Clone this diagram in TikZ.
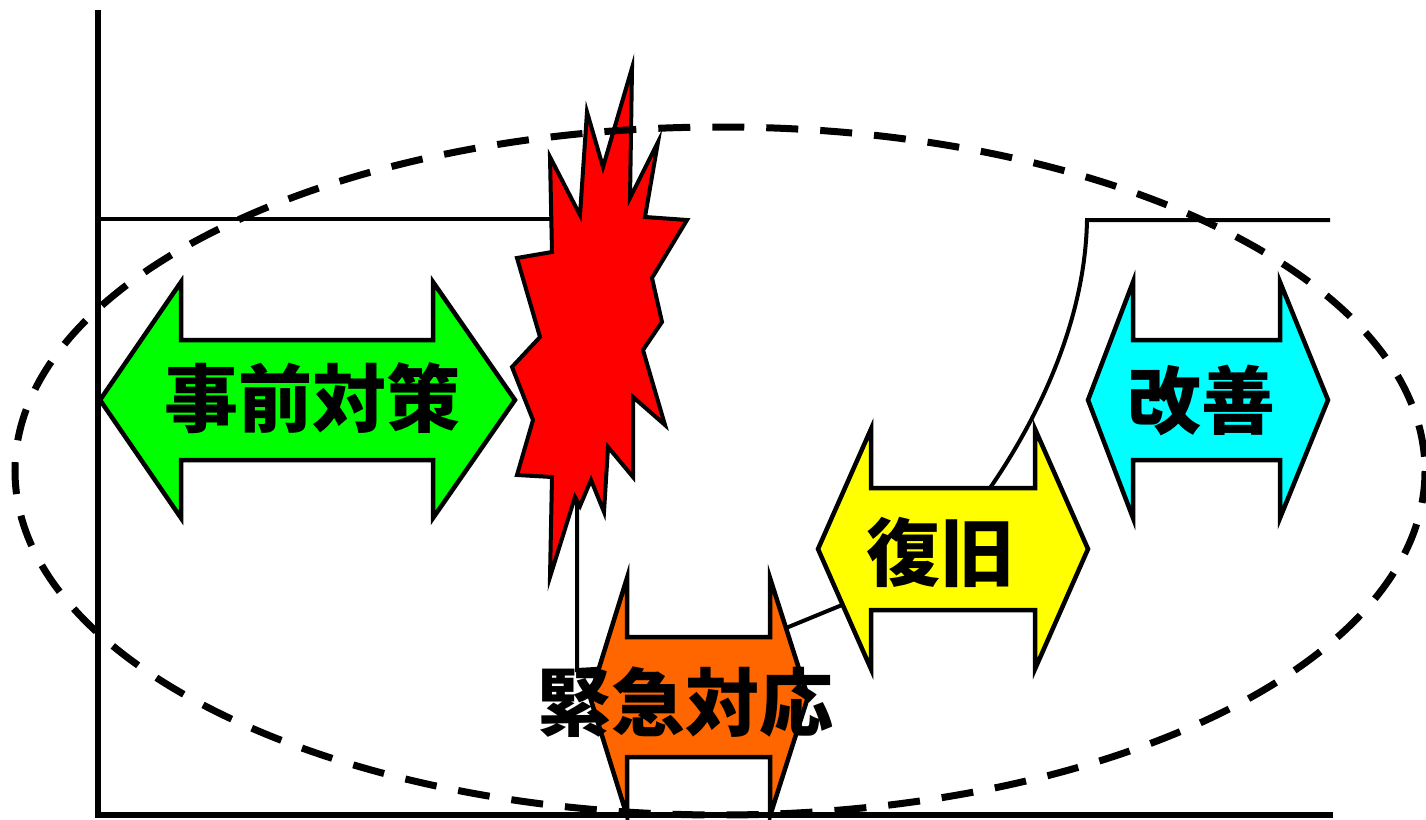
\documentclass[tikz,border=0pt]{standalone}
\usepackage{fontspec}
\newfontfamily\jpfont{Noto Sans CJK JP}
\usepackage{tikz}

\definecolor{boomred}{RGB}{255,0,0}
\definecolor{prepgreen}{RGB}{0,255,0}
\definecolor{emergorange}{RGB}{255,102,0}
\definecolor{recovyellow}{RGB}{255,255,0}
\definecolor{improvecyan}{RGB}{0,255,255}

\tikzset{
  axisline/.style={line width=6},
  levelline/.style={line width=4},
  phasearrow/.style={draw=black,line width=4.5,line join=miter},
  phaselabel/.style={font=\jpfont\bfseries\fontsize{74}{80}\selectfont,inner sep=0},
  phasering/.style={line width=7,dash pattern=on 32 off 22}
}

% double headed block arrow: colour, left tip, left back, right back, right tip, centre y, shaft half, head half
\newcommand{\dblarrow}[8]{%
  \filldraw[phasearrow,fill=#1] (#2,#6) -- (#3,{#6-#8}) -- (#3,{#6-#7}) -- (#4,{#6-#7}) -- (#4,{#6-#8}) -- (#5,#6)
    -- (#4,{#6+#8}) -- (#4,{#6+#7}) -- (#3,{#6+#7}) -- (#3,{#6+#8}) -- cycle;}

\begin{document}
\begin{tikzpicture}[x=1pt,y=1pt,yscale=-1]
\useasboundingbox (0,0) rectangle (1426,819); %same size as the 1426x819 picture

%Shape: Axis 2D
\draw[axisline] (98,10) -- (98,815) -- (1333,815);

%Level line, drop and recovery
\draw[levelline] (98,219) -- (560,219);
\draw[levelline] (577,478) -- (577,670) -- (760,660) -- (786,628) -- (842,605)
  .. controls (900,575) and (960,530) .. (990,488)
  .. controls (1030,430) and (1085,330) .. (1087,220) -- (1330,220);

%Block arrows
\dblarrow{prepgreen}{100}{181}{433}{515}{400}{60}{118}
\dblarrow{improvecyan}{1088}{1133}{1280}{1328}{400}{60}{118}
\dblarrow{recovyellow}{818}{871}{1035}{1088}{549}{61}{120}
\dblarrow{emergorange}{590}{627}{770}{808}{697}{60}{119}

%Shape: Explosion
\filldraw[fill=boomred,draw=black,line width=4,line join=miter]
  (632,68) -- (630,198) -- (658,142) -- (645,217) -- (687,220) -- (652,278)
  -- (662,322) -- (643,350) -- (665,425) -- (633,397) -- (633,477) -- (608,447)
  -- (604,512) -- (591,480) -- (580,506) -- (575,497) -- (550,577) -- (552,477)
  -- (517,475) -- (533,420) -- (512,367) -- (540,337) -- (517,258) -- (552,252)
  -- (550,157) -- (580,215) -- (587,112) -- (603,167) -- cycle;

% Text Node
\node[phaselabel] (prep) at (312,398) {事前対策};
% Text Node
\node[phaselabel] (improve) at (1201,400) {改善};
% Text Node
\node[phaselabel] (recov) at (940,552) {復旧};
% Text Node
\node[phaselabel] (emerg) at (685,702) {緊急対応};

%Shape: Dashed ring
\draw[phasering] (720,471) ellipse [x radius=705,y radius=344];

\end{tikzpicture}
\end{document}
